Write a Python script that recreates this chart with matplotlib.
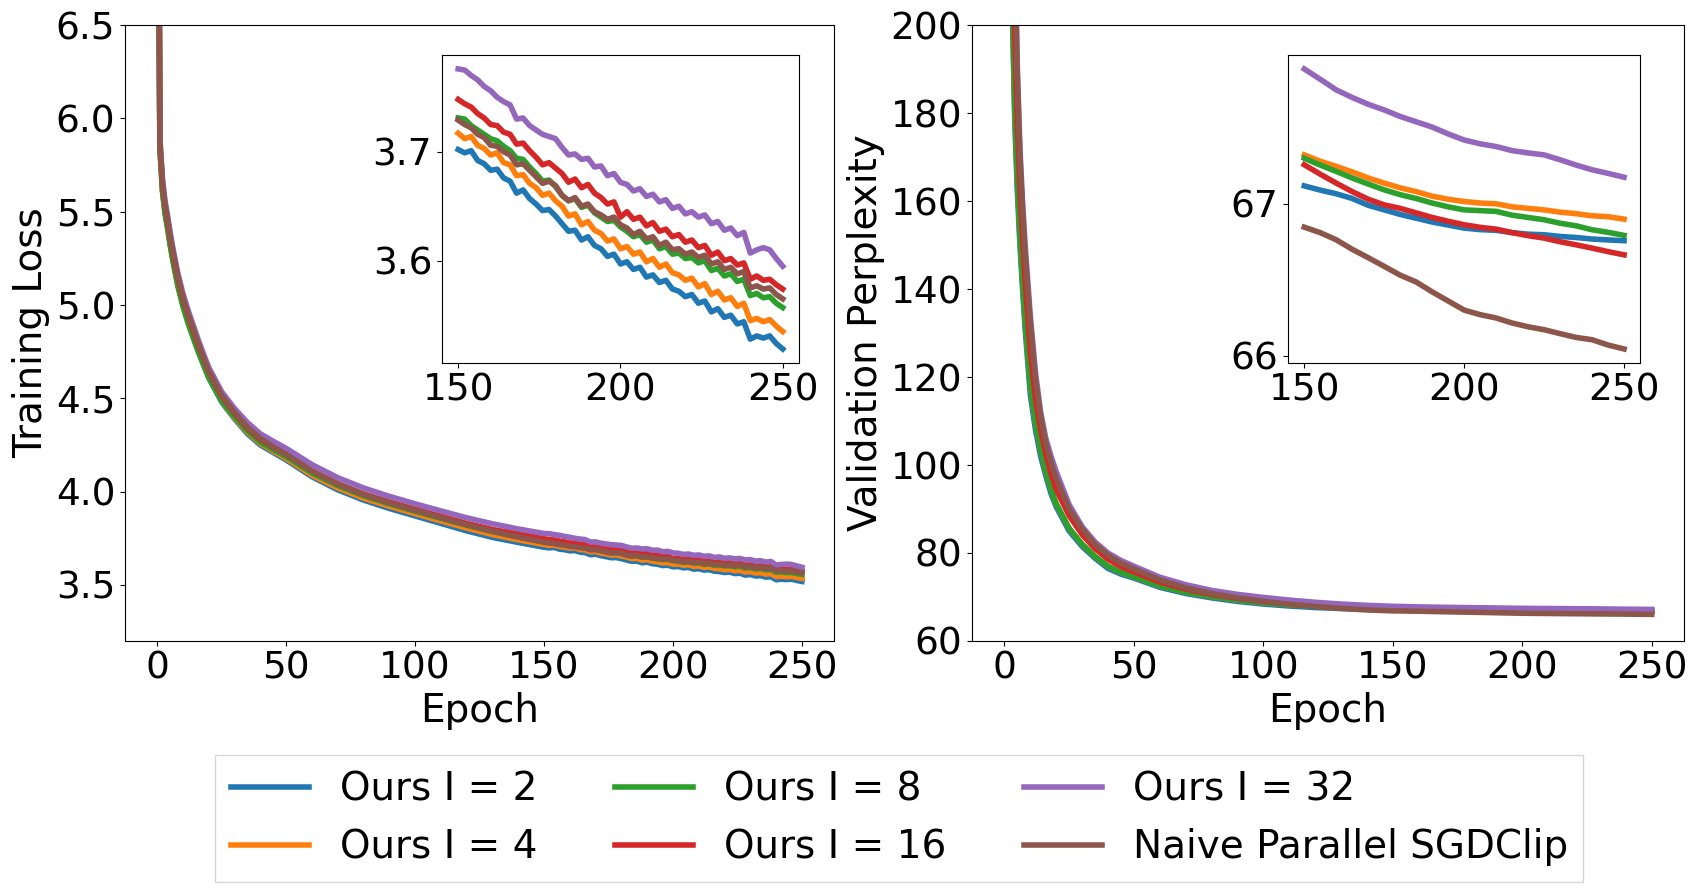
import matplotlib
matplotlib.use("Agg")
import matplotlib.pyplot as plt

labels = ['Ours I = 2', 'Ours I = 4', 'Ours I = 8', 'Ours I = 16', 'Ours I = 32', 'Naive Parallel SGDClip']
colors = ['tab:blue', 'tab:orange', 'tab:green', 'tab:red', 'tab:purple', 'tab:brown']

# epochs before the zoomed window
early_epochs = [0, 1, 2, 3, 4, 5, 6, 7, 8, 10, 12, 14, 16, 18, 20, 25, 30, 35, 40, 45,
                50, 60, 70, 80, 90, 100, 110, 120, 130, 140]

# ---------------- training loss ----------------
loss_early_i2 = [9.0, 5.85, 5.62, 5.50, 5.42, 5.33, 5.25, 5.18, 5.11, 5.00, 4.91, 4.83, 4.75, 4.68, 4.61,
                 4.48, 4.39, 4.31, 4.25, 4.21, 4.17, 4.08, 4.01, 3.955, 3.91, 3.87, 3.83, 3.79, 3.755, 3.728]
loss_early_i4 = [9.0, 5.85, 5.62, 5.50, 5.42, 5.33, 5.25, 5.18, 5.11, 5.00, 4.91, 4.83, 4.752, 4.683, 4.615,
                 4.485, 4.395, 4.318, 4.258, 4.217, 4.178, 4.088, 4.02, 3.965, 3.922, 3.882, 3.843, 3.805, 3.77, 3.742]
loss_early_i8 = [9.0, 5.84, 5.61, 5.49, 5.41, 5.32, 5.24, 5.17, 5.10, 4.99, 4.90, 4.822, 4.745, 4.677, 4.61,
                 4.485, 4.40, 4.325, 4.265, 4.225, 4.188, 4.10, 4.033, 3.978, 3.935, 3.895, 3.857, 3.82, 3.786, 3.757]
loss_early_i16 = [9.0, 5.87, 5.65, 5.53, 5.45, 5.36, 5.28, 5.21, 5.14, 5.03, 4.94, 4.86, 4.78, 4.71, 4.64,
                  4.51, 4.42, 4.34, 4.28, 4.238, 4.20, 4.112, 4.043, 3.988, 3.945, 3.906, 3.868, 3.83, 3.797, 3.774]
loss_early_i32 = [9.1, 5.90, 5.68, 5.56, 5.48, 5.39, 5.31, 5.24, 5.17, 5.06, 4.97, 4.89, 4.81, 4.735, 4.665,
                  4.535, 4.445, 4.37, 4.31, 4.27, 4.232, 4.145, 4.075, 4.02, 3.975, 3.935, 3.897, 3.86, 3.828, 3.80]
loss_early_naive = [9.1, 5.88, 5.66, 5.54, 5.46, 5.37, 5.29, 5.22, 5.15, 5.04, 4.95, 4.87, 4.79, 4.715, 4.645,
                    4.515, 4.425, 4.345, 4.285, 4.24, 4.20, 4.11, 4.04, 3.984, 3.94, 3.90, 3.861, 3.822, 3.788, 3.757]

# epochs 150..250, every 2 epochs
loss_late_epochs = list(range(150, 251, 2))
loss_late_i2 = [3.702, 3.699, 3.701, 3.692, 3.689, 3.683, 3.684, 3.676, 3.673, 3.662, 3.665, 3.657, 3.652,
                3.646, 3.647, 3.641, 3.634, 3.627, 3.628, 3.619, 3.622, 3.614, 3.611, 3.604, 3.606, 3.597,
                3.599, 3.592, 3.594, 3.585, 3.587, 3.580, 3.582, 3.574, 3.572, 3.567, 3.569, 3.561, 3.563,
                3.553, 3.556, 3.548, 3.550, 3.542, 3.544, 3.528, 3.531, 3.529, 3.531, 3.524, 3.519]
loss_late_i4 = [3.717, 3.712, 3.714, 3.706, 3.703, 3.697, 3.699, 3.690, 3.688, 3.678, 3.679, 3.671, 3.667,
                3.660, 3.662, 3.655, 3.650, 3.641, 3.643, 3.633, 3.636, 3.628, 3.625, 3.618, 3.620, 3.611,
                3.613, 3.606, 3.608, 3.599, 3.602, 3.594, 3.597, 3.589, 3.587, 3.582, 3.584, 3.576, 3.579,
                3.569, 3.572, 3.564, 3.566, 3.558, 3.561, 3.545, 3.547, 3.544, 3.546, 3.540, 3.535]
loss_late_i8 = [3.731, 3.730, 3.724, 3.720, 3.716, 3.712, 3.710, 3.705, 3.701, 3.694, 3.693, 3.686, 3.680,
                3.673, 3.674, 3.668, 3.660, 3.655, 3.657, 3.649, 3.651, 3.644, 3.640, 3.636, 3.637, 3.631,
                3.627, 3.622, 3.624, 3.617, 3.619, 3.611, 3.613, 3.606, 3.607, 3.602, 3.603, 3.598, 3.600,
                3.591, 3.593, 3.586, 3.588, 3.581, 3.583, 3.568, 3.570, 3.566, 3.567, 3.561, 3.557]
loss_late_i16 = [3.748, 3.744, 3.741, 3.735, 3.731, 3.725, 3.724, 3.718, 3.716, 3.707, 3.708, 3.701, 3.695,
                 3.688, 3.690, 3.685, 3.680, 3.672, 3.675, 3.667, 3.670, 3.662, 3.658, 3.652, 3.654, 3.640,
                 3.645, 3.638, 3.640, 3.632, 3.635, 3.627, 3.629, 3.622, 3.624, 3.617, 3.619, 3.612, 3.614,
                 3.605, 3.608, 3.600, 3.602, 3.596, 3.598, 3.583, 3.586, 3.582, 3.583, 3.578, 3.574]
loss_late_i32 = [3.776, 3.775, 3.770, 3.766, 3.760, 3.756, 3.750, 3.746, 3.743, 3.730, 3.731, 3.724, 3.720,
                 3.716, 3.714, 3.712, 3.704, 3.697, 3.698, 3.693, 3.694, 3.686, 3.687, 3.678, 3.680, 3.672,
                 3.670, 3.664, 3.666, 3.659, 3.661, 3.654, 3.656, 3.648, 3.650, 3.643, 3.645, 3.640, 3.642,
                 3.634, 3.636, 3.628, 3.630, 3.623, 3.626, 3.607, 3.610, 3.612, 3.610, 3.602, 3.595]
loss_late_naive = [3.729, 3.725, 3.722, 3.716, 3.713, 3.706, 3.705, 3.700, 3.697, 3.688, 3.689, 3.683, 3.677,
                   3.671, 3.673, 3.669, 3.660, 3.655, 3.658, 3.650, 3.652, 3.645, 3.642, 3.638, 3.640, 3.633,
                   3.630, 3.624, 3.627, 3.620, 3.622, 3.614, 3.617, 3.610, 3.611, 3.606, 3.608, 3.603, 3.605,
                   3.597, 3.599, 3.592, 3.594, 3.588, 3.590, 3.575, 3.577, 3.574, 3.575, 3.569, 3.565]

# ---------------- validation perplexity ----------------
ppl_early_i2 = [700, 350, 250, 205, 178, 162, 150, 140, 131, 116, 108, 102, 97.5, 93.5, 90.5, 85, 81.5,
                78.8, 76.5, 75.2, 74.3, 72.2, 70.8, 69.8, 69.0, 68.4, 67.95, 67.6, 67.38, 67.22]
ppl_early_i4 = [700, 355, 255, 208, 181, 165, 152, 142, 133, 118, 109.5, 103.5, 98.5, 94.5, 91.2, 85.6, 82.0,
                79.2, 77.0, 75.6, 74.6, 72.5, 71.1, 70.1, 69.3, 68.7, 68.25, 67.9, 67.62, 67.42]
ppl_early_i8 = [700, 355, 255, 208, 181, 165, 152, 142, 133, 118, 109.5, 103.5, 98.5, 94.5, 91.2, 85.6, 82.0,
                79.2, 77.0, 75.6, 74.6, 72.5, 71.1, 70.1, 69.3, 68.7, 68.22, 67.87, 67.58, 67.39]
ppl_early_i16 = [750, 400, 285, 230, 198, 178, 163, 152, 142, 126, 115, 108, 102.5, 98, 94.5, 88.5, 84.2,
                 81, 78.6, 76.9, 75.7, 73.4, 71.8, 70.6, 69.7, 69.0, 68.45, 68.0, 67.65, 67.42]
ppl_early_i32 = [900, 500, 330, 260, 220, 190, 172, 160, 150, 134, 121, 112, 106, 102, 98.5, 91, 86,
                 82.5, 80, 78.3, 77, 74.5, 72.8, 71.5, 70.6, 69.9, 69.3, 68.8, 68.4, 68.1]
ppl_early_naive = [850, 480, 320, 255, 215, 188, 170, 158, 148, 132, 119.5, 111, 105, 100.5, 97, 90, 85.5,
                   82, 79.5, 77.7, 76.4, 73.9, 72.1, 70.8, 69.8, 69.0, 68.35, 67.85, 67.4, 67.05]

# epochs 150..250, every 5 epochs
ppl_late_epochs = list(range(150, 251, 5))
ppl_late_i2 = [67.118, 67.09, 67.066, 67.035, 66.99, 66.96, 66.93, 66.905, 66.88, 66.86, 66.84,
               66.83, 66.825, 66.81, 66.80, 66.796, 66.785, 66.778, 66.768, 66.762, 66.757]
ppl_late_i4 = [67.322, 67.28, 67.246, 67.21, 67.17, 67.136, 67.105, 67.08, 67.05, 67.03, 67.015,
               67.005, 67.0, 66.98, 66.97, 66.96, 66.945, 66.935, 66.921, 66.915, 66.899]
ppl_late_i8 = [67.30, 67.255, 67.213, 67.17, 67.13, 67.092, 67.06, 67.035, 67.005, 66.98, 66.96,
               66.955, 66.95, 66.925, 66.91, 66.895, 66.872, 66.855, 66.829, 66.812, 66.792]
ppl_late_i16 = [67.257, 67.195, 67.136, 67.08, 67.03, 66.993, 66.97, 66.94, 66.91, 66.885, 66.862,
                66.845, 66.833, 66.81, 66.79, 66.774, 66.75, 66.73, 66.708, 66.685, 66.664]
ppl_late_i32 = [67.888, 67.82, 67.75, 67.70, 67.655, 67.618, 67.575, 67.54, 67.505, 67.46, 67.42,
                67.395, 67.377, 67.35, 67.335, 67.322, 67.29, 67.255, 67.224, 67.20, 67.175]
ppl_late_naive = [66.846, 66.81, 66.763, 66.70, 66.645, 66.588, 66.53, 66.485, 66.42, 66.36, 66.30,
                  66.27, 66.248, 66.215, 66.19, 66.171, 66.145, 66.12, 66.105, 66.07, 66.044]

loss_early = [loss_early_i2, loss_early_i4, loss_early_i8, loss_early_i16, loss_early_i32, loss_early_naive]
loss_late = [loss_late_i2, loss_late_i4, loss_late_i8, loss_late_i16, loss_late_i32, loss_late_naive]
ppl_early = [ppl_early_i2, ppl_early_i4, ppl_early_i8, ppl_early_i16, ppl_early_i32, ppl_early_naive]
ppl_late = [ppl_late_i2, ppl_late_i4, ppl_late_i8, ppl_late_i16, ppl_late_i32, ppl_late_naive]

TICK_FS = 27
LABEL_FS = 28
LEG_FS = 28
LW = 4

fig = plt.figure(figsize=(16.92, 8.89), dpi=100)
ax1 = fig.add_axes([0.0739, 0.279, 0.4191, 0.6927])
ax2 = fig.add_axes([0.5745, 0.279, 0.4208, 0.6927])
ins1 = fig.add_axes([0.2612, 0.5917, 0.2110, 0.3465])
ins2 = fig.add_axes([0.7614, 0.5917, 0.2079, 0.3465])

handles = []
for k in range(6):
    ep = early_epochs + loss_late_epochs
    ln, = ax1.plot(ep, loss_early[k] + loss_late[k], color=colors[k], lw=LW, label=labels[k])
    handles.append(ln)
    ins1.plot(loss_late_epochs, loss_late[k], color=colors[k], lw=LW)

    ep2 = early_epochs + ppl_late_epochs
    ax2.plot(ep2, ppl_early[k] + ppl_late[k], color=colors[k], lw=LW)
    ins2.plot(ppl_late_epochs, ppl_late[k], color=colors[k], lw=LW)

ax1.set_ylim(3.2, 6.5)
ax1.set_yticks([3.5, 4.0, 4.5, 5.0, 5.5, 6.0, 6.5])
ax1.set_xticks([0, 50, 100, 150, 200, 250])
ax1.set_xlabel('Epoch', fontsize=LABEL_FS)
ax1.set_ylabel('Training Loss', fontsize=LABEL_FS)

ax2.set_ylim(60, 200)
ax2.set_yticks([60, 80, 100, 120, 140, 160, 180, 200])
ax2.set_xticks([0, 50, 100, 150, 200, 250])
ax2.set_xlabel('Epoch', fontsize=LABEL_FS)
ax2.set_ylabel('Validation Perplexity', fontsize=LABEL_FS)

ins1.set_yticks([3.6, 3.7])
ins1.set_xticks([150, 200, 250])
ins2.set_yticks([66, 67])
ins2.set_xticks([150, 200, 250])

for a in (ax1, ax2, ins1, ins2):
    a.tick_params(labelsize=TICK_FS)

fig.legend(handles=handles, loc='lower center', bbox_to_anchor=(0.5315, 0.008), ncol=3,
           fontsize=LEG_FS, fancybox=False, borderaxespad=0)

plt.savefig('out.png', dpi=100)
